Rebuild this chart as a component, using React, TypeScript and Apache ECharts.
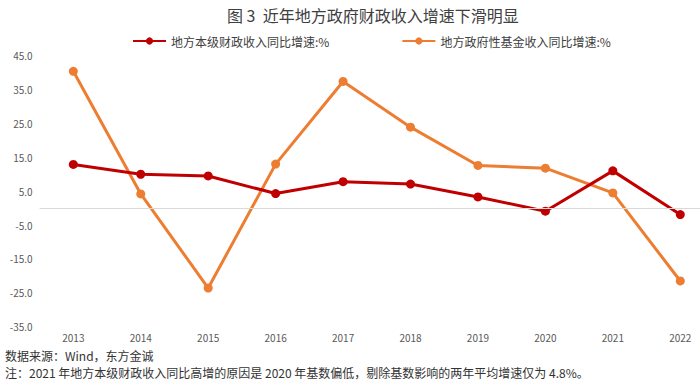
import React, { useEffect, useRef } from "react";
import * as echarts from "echarts";

const years = ["2013", "2014", "2015", "2016", "2017", "2018", "2019", "2020", "2021", "2022"];
const localBudget = [12.9, 10.0, 9.5, 4.3, 7.8, 7.1, 3.3, -0.9, 11.0, -1.9];
const govFund = [40.4, 4.2, -23.6, 13.0, 37.4, 23.9, 12.6, 11.8, 4.5, -21.5];
const seriesNames = ["地方本级财政收入同比增速:%", "地方政府性基金收入同比增速:%"];
const titleText = "图 3  近年地方政府财政收入增速下滑明显";
const sourceText = "数据来源：Wind，东方金诚";
const noteText = "注：2021 年地方本级财政收入同比高增的原因是 2020 年基数偏低，剔除基数影响的两年平均增速仅为 4.8%。";

export default function App() {
  const ref = useRef<HTMLDivElement>(null);
  useEffect(() => {
    if (!ref.current) return;
    const chart = echarts.init(ref.current, undefined, { renderer: "svg" });
    const font = "'Noto Sans CJK SC', 'Microsoft YaHei', sans-serif";
    chart.setOption({
      animation: false,
      backgroundColor: "#ffffff",
      textStyle: { fontFamily: font },
      title: {
        text: titleText,
        left: 222,
        top: 2,
        textStyle: { fontSize: 16, fontWeight: "normal", color: "#404040", fontFamily: font },
      },
      legend: {
        left: 127,
        top: 30,
        itemWidth: 33,
        itemHeight: 9,
        itemGap: 72,
        textStyle: { fontSize: 12, color: "#404040", fontFamily: font },
        data: seriesNames,
      },
      grid: { left: 39.6, right: 0, top: 55.7, bottom: 54.3, containLabel: false },
      xAxis: {
        type: "category",
        data: years,
        boundaryGap: true,
        axisLine: { show: false },
        axisTick: { show: false },
        axisLabel: { color: "#595959", fontSize: 10, margin: 6, fontFamily: font },
      },
      yAxis: {
        type: "value",
        min: -35,
        max: 45,
        interval: 10,
        splitLine: { show: false },
        axisLine: { show: false },
        axisTick: { show: false },
        axisLabel: {
          color: "#595959",
          fontSize: 10,
          margin: 7,
          fontFamily: font,
          formatter: (v: number) => v.toFixed(1),
        },
      },
      series: [
        {
          name: seriesNames[0],
          type: "line",
          data: localBudget,
          symbol: "circle",
          symbolSize: 9,
          z: 3,
          itemStyle: { color: "#C00000" },
          lineStyle: { color: "#C00000", width: 3 },
          markLine: {
            silent: true,
            symbol: "none",
            label: { show: false },
            lineStyle: { color: "#d9d9d9", width: 1, type: "solid" },
            data: [{ yAxis: 0 }],
          },
        },
        {
          name: seriesNames[1],
          type: "line",
          data: govFund,
          symbol: "circle",
          symbolSize: 9,
          z: 2,
          itemStyle: { color: "#ED7D31" },
          lineStyle: { color: "#ED7D31", width: 3 },
        },
      ],
      graphic: [
        {
          type: "text",
          left: 5,
          top: 348,
          style: { text: sourceText, fontSize: 12, lineHeight: 14, fill: "#333333", fontFamily: font },
        },
        {
          type: "text",
          left: 5,
          top: 365,
          style: { text: noteText, fontSize: 12, lineHeight: 14, fill: "#333333", fontFamily: font },
        },
      ],
    });
    return () => chart.dispose();
  }, []);
  return (
    <div
      ref={ref}
      style={{ position: "fixed", left: 0, top: 0, width: 714, height: 381, background: "#fff" }}
    />
  );
}
